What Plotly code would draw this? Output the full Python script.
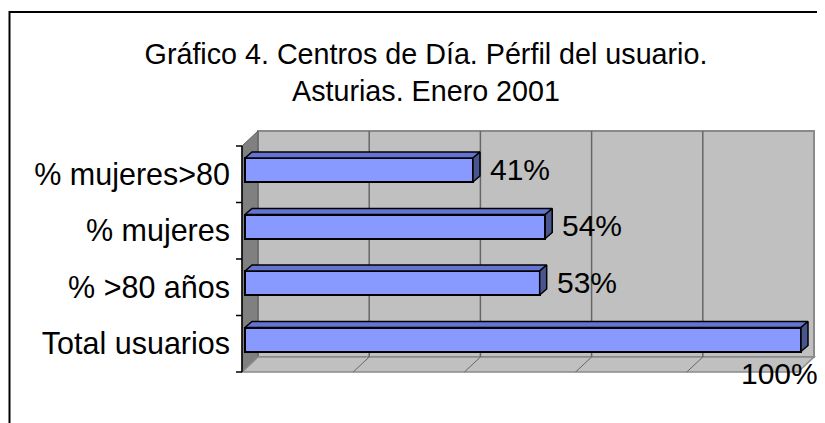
import plotly.graph_objects as go

# ---------------- data ----------------
categories = ["Total usuarios", "% >80 años", "% mujeres", "% mujeres>80"]
values = [1.00, 0.53, 0.54, 0.41]
value_labels = ["100%", "53%", "54%", "41%"]
grid_vals = [0.2, 0.4, 0.6, 0.8]
title_text = "Gráfico 4. Centros de Día. Pérfil del usuario.<br>Asturias. Enero 2001"

# ---------------- geometry (pixels of the 825x423 window) ----------------
OFF = 8                                    # default body margin of the page
W, H = 825, 423
L, R, T, B = 242, 814, 131, 372          # plot area
S = 556.0                                  # px per 100 %
X0 = 245.0                                 # px of value 0 (bar front face)
P = 56.5                                   # px per category row
Y0 = 339.5                                 # px of first bar centre
WD_X, WD_Y = 16, 15                        # wall depth
BD_X, BD_Y = 7, 6                          # bar depth
BAR_H = 24                                 # bar front face height px

FRONT = "#8899FF"
TOP = "#6474D0"
SIDE = "#48558F"
WALL = "#C0C0C0"
SIDEWALL = "#808080"
GRID = "#666666"
FONT = "Liberation Sans, Arial, sans-serif"


def px(x):
    return (x - L) / (R - L)


def py(y):
    return (B - y) / (B - T)


xr = [(L - X0) / S, (R - X0) / S]
yr = [(Y0 - B) / P, (Y0 - T) / P]

idx = list(range(len(categories)))
bw = BAR_H / P
ddx = BD_X / S
ddy = BD_Y / P

fig = go.Figure()

fig.add_trace(go.Bar(
    x=values, y=idx, orientation="h", width=bw, base=0,
    marker=dict(color=FRONT, line=dict(color="black", width=2)),
    hoverinfo="skip", showlegend=False,
))

# 3D top and side faces computed from the values
tx, ty, sx, sy = [], [], [], []
for i, v in zip(idx, values):
    h = bw / 2
    tx += [0, v, v + ddx, ddx, 0, None]
    ty += [i + h, i + h, i + h + ddy, i + h + ddy, i + h, None]
    sx += [v, v, v + ddx, v + ddx, v, None]
    sy += [i - h, i + h, i + h + ddy, i - h + ddy, i - h, None]

fig.add_trace(go.Scatter(x=tx, y=ty, mode="lines", fill="toself", fillcolor=TOP,
                         line=dict(color="black", width=1.5), hoverinfo="skip",
                         showlegend=False))
fig.add_trace(go.Scatter(x=sx, y=sy, mode="lines", fill="toself", fillcolor=SIDE,
                         line=dict(color="black", width=1.5), hoverinfo="skip",
                         showlegend=False))

shapes = []
# back wall
shapes.append(dict(type="rect", xref="paper", yref="paper",
                   x0=px(L + WD_X), x1=px(R), y0=py(B - WD_Y), y1=py(T),
                   fillcolor=WALL, line=dict(color="#8A8A8A", width=2), layer="below"))
# left side wall
shapes.append(dict(type="path", xref="paper", yref="paper",
                   path=f"M{px(L)},{py(T + WD_Y)} L{px(L + WD_X)},{py(T)} "
                        f"L{px(L + WD_X)},{py(B - WD_Y)} L{px(L)},{py(B)} Z",
                   fillcolor=SIDEWALL, line=dict(color="#5A5A5A", width=1), layer="below"))
# floor
shapes.append(dict(type="path", xref="paper", yref="paper",
                   path=f"M{px(L)},{py(B)} L{px(L + WD_X)},{py(B - WD_Y)} "
                        f"L{px(R)},{py(B - WD_Y)} L{px(R - WD_X)},{py(B)} Z",
                   fillcolor=WALL, line=dict(color="#8A8A8A", width=1.5), layer="below"))
# gridlines on back wall and floor
for g in grid_vals:
    xb = L + WD_X + g * S
    shapes.append(dict(type="line", xref="paper", yref="paper",
                       x0=px(xb), x1=px(xb), y0=py(B - WD_Y), y1=py(T),
                       line=dict(color=GRID, width=1.5), layer="below"))
    shapes.append(dict(type="line", xref="paper", yref="paper",
                       x0=px(xb), x1=px(xb - WD_X), y0=py(B - WD_Y), y1=py(B),
                       line=dict(color=GRID, width=1), layer="below"))
# front category axis line and ticks
shapes.append(dict(type="line", xref="paper", yref="paper",
                   x0=px(L), x1=px(L), y0=py(T + WD_Y), y1=py(B),
                   line=dict(color="black", width=1.5)))
for j in range(len(categories) + 1):
    yy = T + WD_Y + j * P
    shapes.append(dict(type="line", xref="paper", yref="paper",
                       x0=px(L - 6), x1=px(L), y0=py(yy), y1=py(yy),
                       line=dict(color="black", width=1.5)))
# outer chart border (left edge kept inside the page)
shapes.append(dict(type="rect", xref="paper", yref="paper",
                   x0=px(OFF + 1.5), x1=px(850), y0=py(460), y1=py(12),
                   line=dict(color="black", width=2), fillcolor="rgba(0,0,0,0)"))

annotations = []
for i, v, t in zip(idx, values, value_labels):
    if v < 0.9:
        annotations.append(dict(x=v + ddx, y=i, xref="x", yref="y", text=t,
                                showarrow=False, xanchor="left", yanchor="middle",
                                xshift=8, yshift=1,
                                font=dict(family=FONT, size=30, color="black")))
    else:
        annotations.append(dict(x=v + ddx, y=i, xref="x", yref="y", text=t,
                                showarrow=False, xanchor="right", yanchor="middle",
                                xshift=12, yshift=-34,
                                font=dict(family=FONT, size=30, color="black")))

front_offset = -4.25 / P

fig.update_layout(
    width=W - OFF, height=H - OFF,
    margin=dict(l=L - OFF, r=W - R, t=T - OFF, b=H - B, pad=0),
    paper_bgcolor="white", plot_bgcolor="rgba(0,0,0,0)",
    font=dict(family=FONT, size=28, color="black"),
    title=dict(text=title_text, x=(426 - OFF) / (W - OFF), xref="container",
               xanchor="center", y=1 - (64 - OFF) / (H - OFF), yref="container",
               yanchor="middle", font=dict(family=FONT, size=28.7, color="black")),
    xaxis=dict(range=xr, showgrid=False, zeroline=False, showticklabels=False,
               showline=False, ticks="", fixedrange=True),
    yaxis=dict(range=yr, showgrid=False, zeroline=False, showline=False,
               tickmode="array", tickvals=[i + front_offset for i in idx],
               ticktext=categories, ticks="", ticklabelstandoff=11,
               tickfont=dict(family=FONT, size=30.5, color="black"), fixedrange=True),
    shapes=shapes,
    annotations=annotations,
    showlegend=False,
    bargap=0,
)

fig.write_html("out.html")
